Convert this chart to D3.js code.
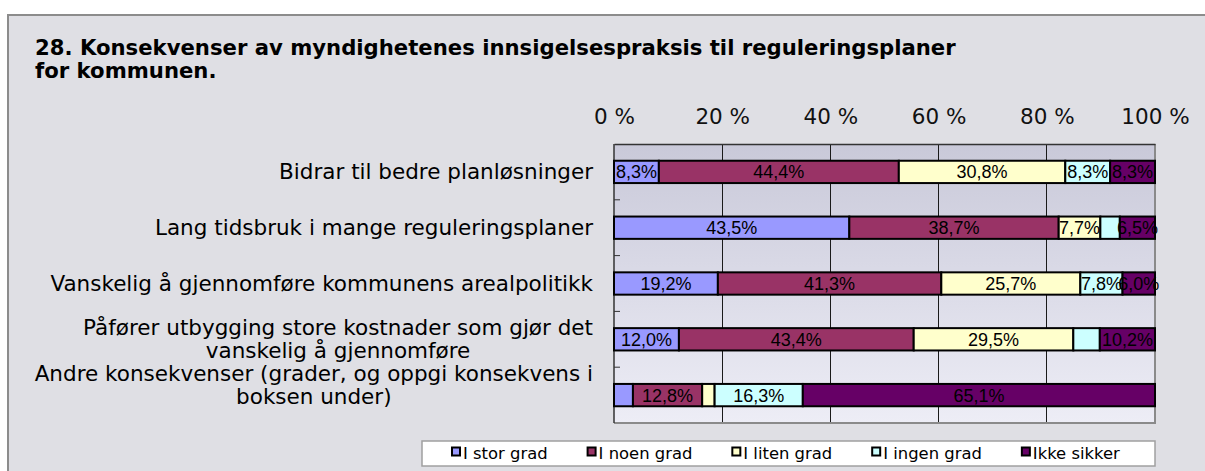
<!DOCTYPE html>
<html>
<head>
<meta charset="utf-8">
<script src="https://cdn.jsdelivr.net/npm/d3@7"></script>
<style>
  html, body { margin: 0; padding: 0; background: #ffffff; }
  svg { display: block; }
</style>
</head>
<body>
<svg id="chart" width="1205" height="471"></svg>
<script>
// ---------- DATA ----------
const titleLines = [
  "28. Konsekvenser av myndighetenes innsigelsespraksis til reguleringsplaner",
  "for kommunen."
];
const categories = [
  "Bidrar til bedre planløsninger",
  "Lang tidsbruk i mange reguleringsplaner",
  "Vanskelig å gjennomføre kommunens arealpolitikk",
  "Påfører utbygging store kostnader som gjør det\nvanskelig å gjennomføre",
  "Andre konsekvenser (grader, og oppgi konsekvens i\nboksen under)"
];
const seriesNames = ["I stor grad", "I noen grad", "I liten grad", "I ingen grad", "Ikke sikker"];
const iStorGrad  = [8.3, 43.5, 19.2, 12.0, 3.5];
const iNoenGrad  = [44.4, 38.7, 41.3, 43.4, 12.8];
const iLitenGrad = [30.8, 7.7, 25.7, 29.5, 2.3];
const iIngenGrad = [8.3, 3.6, 7.8, 4.9, 16.3];
const ikkeSikker = [8.3, 6.5, 6.0, 10.2, 65.1];
const seriesColors = ["#9999FF", "#993366", "#FFFFCC", "#CCFFFF", "#660066"];
const tickValues = [0, 0.2, 0.4, 0.6, 0.8, 1.0];
const tickLabels = ["0 %", "20 %", "40 %", "60 %", "80 %", "100 %"];

// ---------- BUILD ----------
const seriesValues = [iStorGrad, iNoenGrad, iLitenGrad, iIngenGrad, ikkeSikker];
const rows = categories.map((c, i) => {
  const r = { cat: c };
  seriesNames.forEach((s, k) => r[s] = seriesValues[k][i]);
  return r;
});

const svg = d3.select("#chart");
const W = 1205, H = 471;

// chart area (grey panel with border)
svg.append("rect")
  .attr("x", 8).attr("y", 15).attr("width", W + 20).attr("height", H + 20)
  .attr("fill", "#dfdfe4").attr("stroke", "#8c8c8c").attr("stroke-width", 2);

// title
const title = svg.append("text")
  .attr("font-family", "DejaVu Sans, Verdana, sans-serif")
  .attr("font-weight", "bold").attr("font-size", 21.2).attr("fill", "#000");
titleLines.forEach((t, i) => {
  title.append("tspan").attr("x", 35).attr("y", 55 + i * 23).text(t);
});

// plot geometry
const plot = { left: 614, right: 1155, top: 144, bottom: 423 };

const defs = svg.append("defs");
const grad = defs.append("linearGradient").attr("id", "plotbg")
  .attr("x1", 0).attr("y1", 0).attr("x2", 0).attr("y2", 1);
grad.append("stop").attr("offset", "0%").attr("stop-color", "#c9c9d9");
grad.append("stop").attr("offset", "100%").attr("stop-color", "#ededf6");

const x = d3.scaleLinear().domain([0, 1]).range([plot.left, plot.right]);
const y = d3.scaleBand().domain(categories).range([plot.top, plot.bottom])
  .paddingInner(0.6).paddingOuter(0.3);
const band = d3.scaleBand().domain(categories).range([plot.top, plot.bottom]);

svg.append("rect")
  .attr("x", plot.left).attr("y", plot.top)
  .attr("width", plot.right - plot.left).attr("height", plot.bottom - plot.top)
  .attr("fill", "url(#plotbg)");

// vertical gridlines
svg.append("g").selectAll("line").data(tickValues.slice(1, -1)).join("line")
  .attr("x1", d => x(d)).attr("x2", d => x(d))
  .attr("y1", plot.top).attr("y2", plot.bottom)
  .attr("stroke", "#1a1a1a").attr("stroke-width", 1).attr("shape-rendering", "crispEdges");

// right and bottom plot border (grey)
svg.append("path")
  .attr("d", `M${plot.right},${plot.top} V${plot.bottom} H${plot.left}`)
  .attr("fill", "none").attr("stroke", "#8a8a8a").attr("stroke-width", 2);

// top axis
const xAxis = d3.axisTop(x).tickValues(tickValues)
  .tickFormat((d, i) => tickLabels[i]).tickSize(0).tickPadding(20);
const gx = svg.append("g").attr("transform", `translate(0,${plot.top})`).call(xAxis);
gx.select(".domain").attr("stroke", "#333").attr("stroke-width", 1.5);
gx.selectAll("text")
  .attr("font-family", "DejaVu Sans, Verdana, sans-serif")
  .attr("font-size", 21.5).attr("fill", "#111");

// left axis line + inner tick marks at category boundaries
svg.append("line")
  .attr("x1", plot.left).attr("x2", plot.left)
  .attr("y1", plot.top).attr("y2", plot.bottom)
  .attr("stroke", "#333").attr("stroke-width", 1.5);
svg.append("g").selectAll("line").data(categories.slice(1)).join("line")
  .attr("x1", plot.left).attr("x2", plot.left + 6)
  .attr("y1", d => band(d)).attr("y2", d => band(d))
  .attr("stroke", "#333").attr("stroke-width", 1);

// category labels
const catG = svg.append("g")
  .attr("font-family", "DejaVu Sans, Verdana, sans-serif")
  .attr("font-size", 21.5).attr("fill", "#000").attr("text-anchor", "middle");
categories.forEach((c, i) => {
  const lines = c.split("\n");
  const lh = 23;
  let cy = band(c) + band.bandwidth() / 2;
  if (lines.length > 1) cy -= (i === categories.length - 1) ? 10.5 : 0.5;
  const t = catG.append("text");
  lines.forEach((ln, j) => {
    t.append("tspan")
      .attr("x", 0)
      .attr("y", cy + (j - (lines.length - 1) / 2) * lh)
      .attr("dy", "0.35em")
      .text(ln);
  });
  // right-align the block: widest line ends at x=593, others centred beneath
  const w = d3.max(t.selectAll("tspan").nodes(), n => n.getComputedTextLength());
  t.selectAll("tspan").attr("x", 593 - w / 2);
});

// stacked bars
const stack = d3.stack().keys(seriesNames).offset(d3.stackOffsetExpand);
const stacked = stack(rows);

const barsG = svg.append("g");
stacked.forEach((s, k) => {
  const g = barsG.append("g");
  g.selectAll("rect").data(s).join("rect")
    .attr("x", d => x(d[0])).attr("y", d => y(d.data.cat))
    .attr("width", d => x(d[1]) - x(d[0])).attr("height", y.bandwidth())
    .attr("fill", seriesColors[k]).attr("stroke", "#000").attr("stroke-width", 2);
});
const labelG = svg.append("g")
  .attr("font-family", "Liberation Sans, Arial, sans-serif")
  .attr("font-size", 18).attr("fill", "#000").attr("text-anchor", "middle");
stacked.forEach((s, k) => {
  labelG.selectAll(null).data(s.filter(d => d.data[seriesNames[k]] >= 5.5)).join("text")
    .attr("x", d => (x(d[0]) + x(d[1])) / 2)
    .attr("y", d => y(d.data.cat) + y.bandwidth() / 2)
    .attr("dy", "0.36em")
    .text(d => d.data[seriesNames[k]].toFixed(1).replace(".", ",") + "%");
});

// legend
const leg = { x: 422, y: 441, w: 733, h: 25 };
svg.append("rect").attr("x", leg.x).attr("y", leg.y).attr("width", leg.w).attr("height", leg.h)
  .attr("fill", "#ffffff").attr("stroke", "#a0a0a0").attr("stroke-width", 1.5);
const legG = svg.append("g");
let lx = 0;
const legGap = 39;
seriesNames.forEach((s, k) => {
  const it = legG.append("g").attr("transform", `translate(${lx},0)`);
  it.append("rect").attr("x", 1).attr("y", -11.5).attr("width", 8).attr("height", 8)
    .attr("fill", seriesColors[k]).attr("stroke", "#000").attr("stroke-width", 2);
  const t = it.append("text").attr("x", 12).attr("y", 0)
    .attr("font-family", "DejaVu Sans, Verdana, sans-serif")
    .attr("font-size", 16.4).attr("fill", "#000").text(s);
  lx += 12 + t.node().getComputedTextLength() + legGap;
});
legG.attr("transform", `translate(${leg.x + 29},${leg.y + 18})`);
</script>
</body>
</html>
